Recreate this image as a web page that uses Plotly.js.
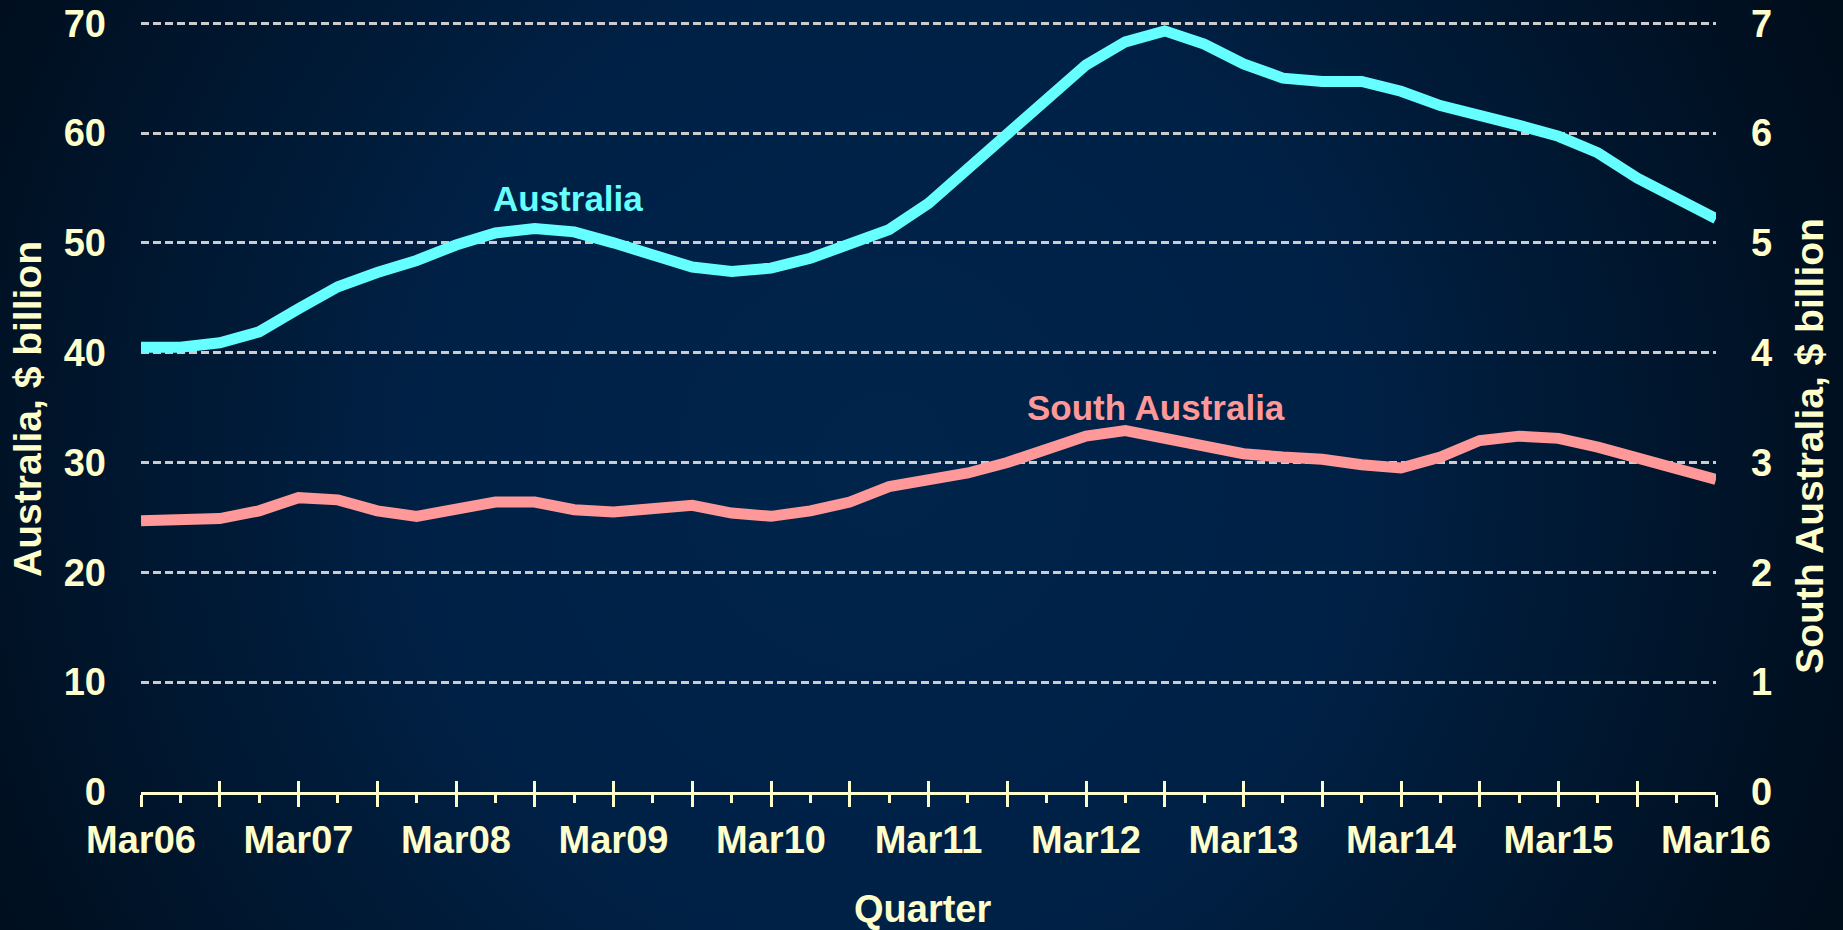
<!DOCTYPE html>
<html>
<head>
<meta charset="utf-8">
<script src="https://cdn.plot.ly/plotly-3.0.1.min.js"></script>
<style>
  html, body { margin: 0; padding: 0; overflow: hidden; }
  body {
    width: 1843px; height: 930px;
    background: radial-gradient(ellipse 56% 115% at 48% 50%, #00244b 0%, #002146 45%, #00162e 75%, #000d1b 100%);
  }
  #chart { width: 1843px; height: 930px; }
</style>
</head>
<body>
<div id="chart"></div>
<script>
// Quarter labels (categories)
const quarters = [
  'Mar06','Jun06','Sep06','Dec06',
  'Mar07','Jun07','Sep07','Dec07',
  'Mar08','Jun08','Sep08','Dec08',
  'Mar09','Jun09','Sep09','Dec09',
  'Mar10','Jun10','Sep10','Dec10',
  'Mar11','Jun11','Sep11','Dec11',
  'Mar12','Jun12','Sep12','Dec12',
  'Mar13','Jun13','Sep13','Dec13',
  'Mar14','Jun14','Sep14','Dec14',
  'Mar15','Jun15','Sep15','Dec15',
  'Mar16'
];

// Australia, $ billion (left axis)
const australia = [
  40.5, 40.5, 40.9, 41.9,
  44.0, 46.0, 47.3, 48.4,
  49.8, 50.9, 51.3, 51.0,
  50.0, 48.9, 47.8, 47.4,
  47.7, 48.6, 49.8, 51.2,
  53.6, 56.7, 60.0, 63.0,
  66.2, 68.3, 69.3, 68.1,
  66.3, 65.0, 64.7, 64.7,
  63.8, 62.5, 61.7, 60.7,
  59.7, 58.2, 55.9, 54.1,
  52.2
];

// South Australia, $ billion (right axis)
const southAustralia = [
  2.47, 2.47, 2.49, 2.56,
  2.68, 2.66, 2.56, 2.51,
  2.57, 2.64, 2.64, 2.57,
  2.55, 2.575, 2.61, 2.54,
  2.51, 2.56, 2.64, 2.78,
  2.845, 2.905, 3.00, 3.13,
  3.24, 3.29, 3.22, 3.13,
  3.08, 3.05, 3.03, 2.98,
  2.95, 3.05, 3.20, 3.24,
  3.22, 3.14, 3.05, 2.95,
  2.845
];

// Axis ranges and ticks
const leftTicks = [0, 10, 20, 30, 40, 50, 60, 70];
const rightTicks = [0, 1, 2, 3, 4, 5, 6, 7];

const cream = '#FFFFCC';
const fontFam = 'Liberation Sans, Arial, sans-serif';

const xIdx = quarters.map((q, i) => i);
const majorIdx = [], majorText = [], minorIdx = [];
quarters.forEach((q, i) => {
  const m = q.slice(0, 3);
  if (m === 'Mar') { majorIdx.push(i); majorText.push(q); }
  else if (m === 'Sep') { majorIdx.push(i); majorText.push(''); }
  else { minorIdx.push(i); }
});

const traces = [
  {
    x: xIdx, y: australia, type: 'scatter', mode: 'lines',
    line: { color: '#66FFFF', width: 11 },
    xaxis: 'x', yaxis: 'y', hoverinfo: 'skip'
  },
  {
    x: xIdx, y: southAustralia, type: 'scatter', mode: 'lines',
    line: { color: '#FF9999', width: 11 },
    xaxis: 'x', yaxis: 'y2', hoverinfo: 'skip'
  },
  {
    x: [], y: [], type: 'scatter', mode: 'lines', xaxis: 'x2', yaxis: 'y', hoverinfo: 'skip'
  }
];

const tickFont = { family: fontFam, size: 38, color: cream, weight: 'bold' };

const layout = {
  width: 1843, height: 930,
  margin: { l: 141, r: 127, t: 21.3, b: 138 },
  paper_bgcolor: 'rgba(0,0,0,0)',
  plot_bgcolor: 'rgba(0,0,0,0)',
  showlegend: false,
  xaxis: {
    range: [0, quarters.length - 1],
    tickmode: 'array', tickvals: majorIdx, ticktext: majorText,
    ticks: 'outside', ticklen: 12, tickwidth: 3, tickcolor: cream,
    showline: true, linecolor: cream, linewidth: 3,
    showgrid: false, zeroline: false,
    tickfont: tickFont, ticklabelstandoff: 0,
    minor: { tickmode: 'array', tickvals: minorIdx, ticks: 'outside', ticklen: 8, tickwidth: 3, tickcolor: cream, showgrid: false }
  },
  xaxis2: {
    range: [0, quarters.length - 1],
    overlaying: 'x', anchor: 'y', side: 'bottom',
    tickmode: 'array', tickvals: majorIdx,
    ticks: 'inside', ticklen: 11, tickwidth: 3, tickcolor: cream,
    showticklabels: false, showline: false, showgrid: false, zeroline: false
  },
  yaxis: {
    range: [0, 70.2], tickmode: 'array', tickvals: leftTicks,
    showgrid: true, gridcolor: '#cccccc', gridwidth: 3, griddash: '8px,4px',
    zeroline: false, showline: false, ticks: '',
    tickfont: tickFont, ticklabelstandoff: 34
  },
  yaxis2: {
    range: [0, 7.02], tickmode: 'array', tickvals: rightTicks,
    overlaying: 'y', side: 'right', anchor: 'x',
    showgrid: false, zeroline: false, showline: false, ticks: '',
    tickfont: tickFont, ticklabelstandoff: 34
  },
  annotations: [
    {
      text: 'Australia, $ billion', textangle: -90, showarrow: false,
      xref: 'paper', yref: 'paper', x: -0.0717, y: 0.497,
      xanchor: 'center', yanchor: 'middle',
      font: { family: fontFam, size: 39, color: cream, weight: 'bold' }
    },
    {
      text: 'South Australia, $ billion', textangle: -90, showarrow: false,
      xref: 'paper', yref: 'paper', x: 1.0597, y: 0.449,
      xanchor: 'center', yanchor: 'middle',
      font: { family: fontFam, size: 39, color: cream, weight: 'bold' }
    },
    {
      text: 'Quarter', showarrow: false,
      xref: 'paper', yref: 'paper', x: 0.496, y: -0.152,
      xanchor: 'center', yanchor: 'middle',
      font: { family: fontFam, size: 38, color: cream, weight: 'bold' }
    },
    {
      text: 'Australia', showarrow: false,
      xref: 'x', yref: 'y', x: 10.84, y: 54.0,
      xanchor: 'center', yanchor: 'middle',
      font: { family: fontFam, size: 35, color: '#66FFFF', weight: 'bold' }
    },
    {
      text: 'South Australia', showarrow: false,
      xref: 'x', yref: 'y', x: 25.78, y: 35.0,
      xanchor: 'center', yanchor: 'middle',
      font: { family: fontFam, size: 35, color: '#FF9999', weight: 'bold' }
    }
  ]
};

Plotly.newPlot('chart', traces, layout, { staticPlot: true, displayModeBar: false });
</script>
</body>
</html>
